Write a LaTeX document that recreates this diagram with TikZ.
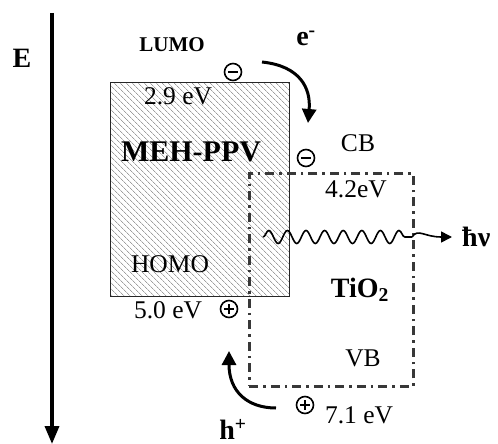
\documentclass[tikz,border=0pt]{standalone}
\usepackage{fontspec}
\setmainfont{Liberation Serif}
\usetikzlibrary{patterns.meta,decorations.pathmorphing,arrows.meta}
\begin{document}
\begin{tikzpicture}[x=1pt,y=-1pt,
  lbl/.style={inner sep=0pt,font=\fontsize{25.5}{28}\selectfont},
  blbl/.style={inner sep=0pt,font=\fontsize{28}{30}\selectfont\bfseries},
  charge/.style={circle,draw,line width=1.6pt,minimum size=17pt,inner sep=0pt},
  minuscharge/.style={charge,path picture={\draw[line width=2.4pt] ([xshift=3.5pt]path picture bounding box.west) -- ([xshift=-3.5pt]path picture bounding box.east);}},
  pluscharge/.style={charge,path picture={\draw[line width=2pt] ([xshift=3.5pt]path picture bounding box.west) -- ([xshift=-3.5pt]path picture bounding box.east) ([yshift=-3.5pt]path picture bounding box.north) -- ([yshift=3.5pt]path picture bounding box.south);}},
  band/.style={line width=2.7pt,draw=black!78,dash pattern=on 9pt off 5pt on 2.5pt off 5pt},
  bigarrow/.style={line width=3pt,-{Triangle[length=14pt,width=14pt]}}]
\useasboundingbox (0,0) rectangle (498,444);
% energy axis
\coordinate (axtop) at (52,13);
\coordinate (axbot) at (52,444);
\draw[line width=3.5pt,-{Triangle[length=18pt,width=14pt]}] (axtop) -- (axbot);
\node[blbl] (E) at (22,58) {E};
% MEH-PPV block
\node[draw=black!85,line width=1.4pt,pattern={Lines[angle=-45,distance=4pt,line width=0.8pt]},pattern color=black!38,minimum width=179pt,minimum height=214pt,inner sep=0pt,anchor=north west] (meh) at (110,82) {};
% TiO2 block
\node[band,minimum width=164pt,minimum height=213pt,inner sep=0pt,anchor=north west] (tio) at (248,172) {};
% labels
\node[inner sep=0pt,font=\fontsize{21}{24}\selectfont\bfseries] (lumo) at (172,45) {LUMO};
\node[lbl] (e29) at (178,96) {2.9 eV};
\node[inner sep=0pt,font=\fontsize{30}{32}\selectfont\bfseries] (mehlbl) at (191,152) {MEH-PPV};
\node[lbl] (homo) at (170,264) {HOMO};
\node[lbl] (e50) at (168,310) {5.0 eV};
\node[lbl] (cb) at (358,143) {CB};
\node[lbl] (e42) at (356,189) {4.2eV};
\node[blbl] (tiolbl) at (360,290) {TiO\textsubscript{2}};
\node[lbl] (vb) at (363,358) {VB};
\node[lbl] (e71) at (359,415) {7.1 eV};
\node[blbl] (elec) at (306,38) {e\textsuperscript{-}};
\node[blbl] (hole) at (233,429) {h\textsuperscript{+}};
\node[blbl,anchor=west] (hnu) at (462,237) {ħν};
% charges
\node[minuscharge] (m1) at (233,72) {};
\node[minuscharge] (m2) at (306,158) {};
\node[pluscharge] (p1) at (229,309) {};
\node[pluscharge] (p2) at (305,405) {};
% electron transfer arrow
\coordinate (ea) at (262,62);
\coordinate (eb) at (308,123);
\draw[bigarrow] (ea) .. controls (300,66) and (311,88) .. (eb);
% hole transfer arrow
\coordinate (ha) at (276,408);
\coordinate (hb) at (229,351);
\draw[bigarrow] (ha) .. controls (248,408) and (229,392) .. (hb);
% emission
\coordinate (w0) at (263,237);
\coordinate (w1) at (412,237);
\coordinate (w2) at (452,237);
\draw[line width=1.6pt,decorate,decoration={snake,segment length=18.6pt,amplitude=6.5pt}] (w0) -- (w1);
\draw[line width=1.6pt,-{Triangle[length=11pt,width=11pt]}] (w1) .. controls (418,228) and (424,237) .. (w2);
\end{tikzpicture}
\end{document}
